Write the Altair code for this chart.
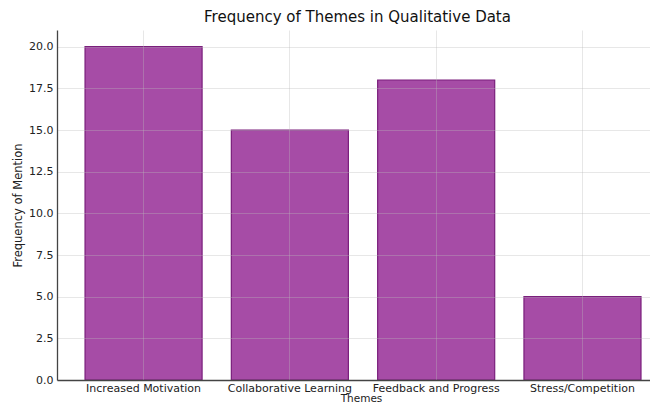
import altair as alt
import pandas as pd

themes = ["Increased Motivation", "Collaborative Learning", "Feedback and Progress", "Stress/Competition"]
frequencies = [20, 15, 18, 5]
y_ticks = [0.0, 2.5, 5.0, 7.5, 10.0, 12.5, 15.0, 17.5, 20.0]

df = pd.DataFrame({"Theme": themes, "Frequency": frequencies})

FONT = "DejaVu Sans"

chart = alt.Chart(df).mark_bar(
    color="#a64ca6", stroke="#7a1f7c", strokeWidth=1.2
).encode(
    x=alt.X(
        "Theme:N", sort=themes, title="Themes",
        scale=alt.Scale(paddingInner=0.2, paddingOuter=0.1266, align=0.757),
        axis=alt.Axis(
            labelAngle=0, grid=True, bandPosition=0.5, zindex=1,
            gridColor="#bbbbbb", gridOpacity=0.35, gridWidth=1,
            domainColor="#444444", domainWidth=1.3,
            ticks=False,
            labelFont=FONT, labelFontSize=11, labelColor="#222222", labelPadding=2,
            titleFont=FONT, titleFontSize=10.5, titleFontWeight="normal", titleColor="#222222",
            titleBaseline="bottom", titleY=23, titleX=304,
        ),
    ),
    y=alt.Y(
        "Frequency:Q", title="Frequency of Mention",
        scale=alt.Scale(domain=[0, 21], nice=False),
        axis=alt.Axis(
            values=y_ticks, format=".1f", grid=True, zindex=1,
            gridColor="#bbbbbb", gridOpacity=0.35, gridWidth=1,
            domainColor="#444444", domainWidth=1.3,
            ticks=False,
            labelFont=FONT, labelFontSize=11, labelColor="#222222", labelPadding=4,
            titleFont=FONT, titleFontSize=11.5, titleFontWeight="normal", titleColor="#222222",
            titlePadding=5,
        ),
    ),
).properties(
    width=593,
    height=350,
    title=alt.TitleParams(
        "Frequency of Themes in Qualitative Data",
        font=FONT, fontSize=15, fontWeight="normal", color="#111111", offset=5,
        anchor="middle", dx=4,
    ),
    autosize=alt.AutoSizeParams(type="none"),
    padding={"left": 49, "top": 22, "right": 0, "bottom": 24},
).configure_view(strokeWidth=0)

chart.save("out.html", embed_options={"renderer": "svg", "actions": False})
